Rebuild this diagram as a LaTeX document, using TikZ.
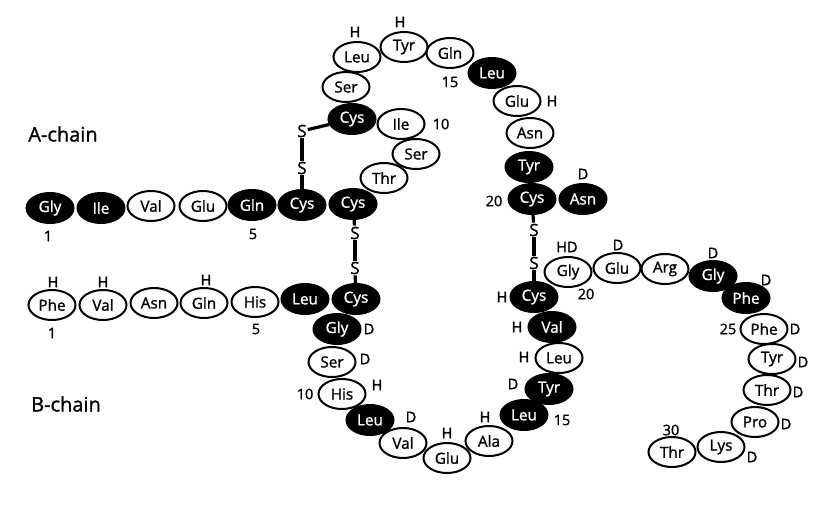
\documentclass[tikz,border=0pt]{standalone}
\usepackage{fontspec}
\setmainfont{Open Sans}[FakeBold=1.2]
\usetikzlibrary{shapes.geometric}
\tikzset{
  res/.style={ellipse, draw=black, line width=2pt, fill=white, minimum width=47pt, minimum height=30pt, inner sep=0pt, font=\fontsize{15.3}{16}\selectfont},
  resb/.style={res, fill=black, text=white},
  lab/.style={inner sep=0pt, font=\fontsize{14.5}{15}\selectfont},
  chain/.style={inner sep=0pt, font=\fontsize{20}{22}\selectfont},
  sul/.style={inner sep=1pt, font=\fontsize{17}{17}\selectfont},
  ssbond/.style={line width=3.2pt},
}
\begin{document}
\begin{tikzpicture}[x=1pt,y=-1pt]
\useasboundingbox (0,0) rectangle (836,507);
% ---------- A-chain ----------
\node[chain] (Alab) at (63,134) {A-chain};
\node[resb] (A1) at (50,208) {Gly};
\node[resb] (A2) at (101,208) {Ile};
\node[res]  (A3) at (151,206) {Val};
\node[res]  (A4) at (203,206) {Glu};
\node[resb] (A5) at (252,205) {Gln};
\node[resb] (A6) at (302,205) {Cys};
\node[resb] (A7) at (353,204) {Cys};
\node[res]  (A8) at (384,178) {Thr};
\node[res]  (A9) at (416,154) {Ser};
\node[res]  (A10) at (401,124) {Ile};
\node[resb] (A11) at (352,119) {Cys};
\node[res]  (A12) at (346,87) {Ser};
\node[res]  (A13) at (357,57) {Leu};
\node[res]  (A14) at (404,47) {Tyr};
\node[res]  (A15) at (450,53) {Gln};
\node[resb] (A16) at (492,73) {Leu};
\node[res]  (A17) at (517,101) {Glu};
\node[res]  (A18) at (530,133) {Asn};
\node[resb] (A19) at (529,167) {Tyr};
\node[resb] (A20) at (532,199) {Cys};
\node[resb] (A21) at (583,199) {Asn};
% A labels
\node[lab] (a1) at (48,236) {1};
\node[lab] (a5) at (253,234) {5};
\node[lab] (a10) at (441,124) {10};
\node[lab] (a13) at (355,32) {H};
\node[lab] (a14) at (400,22) {H};
\node[lab] (a15) at (450,82) {15};
\node[lab] (a17) at (552,101) {H};
\node[lab] (a20) at (494,201) {20};
\node[lab] (a21) at (583,174) {D};
% ---------- B-chain ----------
\node[chain] (Blab) at (66,404) {B-chain};
\node[res]  (B1) at (52,305) {Phe};
\node[res]  (B2) at (103,305) {Val};
\node[res]  (B3) at (154,303) {Asn};
\node[res]  (B4) at (204,303) {Gln};
\node[res]  (B5) at (255,302) {His};
\node[resb] (B6) at (305,299) {Leu};
\node[resb] (B7) at (356,299) {Cys};
\node[resb] (B8) at (337,329) {Gly};
\node[res]  (B9) at (332,362) {Ser};
\node[res]  (B10) at (342,394) {His};
\node[resb] (B11) at (370,420) {Leu};
\node[res]  (B12) at (403,443) {Val};
\node[res]  (B13) at (447,458) {Glu};
\node[res]  (B14) at (489,441) {Ala};
\node[resb] (B15) at (524,415) {Leu};
\node[resb] (B16) at (549,389) {Tyr};
\node[res]  (B17) at (559,358) {Leu};
\node[resb] (B18) at (552,327) {Val};
\node[resb] (B19) at (534,297) {Cys};
\node[res]  (B20) at (568,272) {Gly};
\node[res]  (B21) at (617,268) {Glu};
\node[res]  (B22) at (665,269) {Arg};
\node[resb] (B23) at (713,276) {Gly};
\node[resb] (B24) at (746,298) {Phe};
\node[res]  (B25) at (764,329) {Phe};
\node[res]  (B26) at (772,359) {Tyr};
\node[res]  (B27) at (767,390) {Thr};
\node[res]  (B28) at (755,422) {Pro};
\node[res]  (B29) at (721,447) {Lys};
\node[res]  (B30) at (672,452) {Thr};
% B labels
\node[lab] (b1h) at (53,282) {H};
\node[lab] (b2h) at (103,282) {H};
\node[lab] (b4h) at (206,280) {H};
\node[lab] (b1) at (52,333) {1};
\node[lab] (b5) at (256,329) {5};
\node[lab] (b8) at (369,329) {D};
\node[lab] (b9) at (365,359) {D};
\node[lab] (b10n) at (305,394) {10};
\node[lab] (b10) at (377,385) {H};
\node[lab] (b11) at (411,417) {D};
\node[lab] (b13) at (447,433) {H};
\node[lab] (b14) at (485,417) {H};
\node[lab] (b15) at (562,420) {15};
\node[lab] (b16) at (513,384) {D};
\node[lab] (b17) at (524,357) {H};
\node[lab] (b18) at (517,327) {H};
\node[lab] (b19) at (502,297) {H};
\node[lab] (b20) at (567,247) {HD};
\node[lab] (b20n) at (586,294) {20};
\node[lab] (b21) at (618,245) {D};
\node[lab] (b23) at (713,253) {D};
\node[lab] (b24) at (766,280) {D};
\node[lab] (b25n) at (728,329) {25};
\node[lab] (b25) at (795,329) {D};
\node[lab] (b26) at (803,362) {D};
\node[lab] (b27) at (798,392) {D};
\node[lab] (b28) at (786,424) {D};
\node[lab] (b29) at (752,457) {D};
\node[lab] (b30n) at (671,430) {30};
% ---------- disulfide bridges ----------
\node[sul] (S1) at (302,131) {S};
\node[sul] (S2) at (302,168) {S};
\node[sul] (S3) at (355,233) {S};
\node[sul] (S4) at (355,268) {S};
\node[sul] (S5) at (534,230) {S};
\node[sul] (S6) at (534,263) {S};
\draw[ssbond] (S1) -- (A11);
\draw[ssbond] (S1) -- (S2);
\draw[ssbond] (S2) -- (A6);
\draw[ssbond] (A7) -- (S3);
\draw[ssbond] (S3) -- (S4);
\draw[ssbond] (S4) -- (B7);
\draw[ssbond] (A20) -- (S5);
\draw[ssbond] (S5) -- (S6);
\draw[ssbond] (S6) -- (B19);
\end{tikzpicture}
\end{document}
